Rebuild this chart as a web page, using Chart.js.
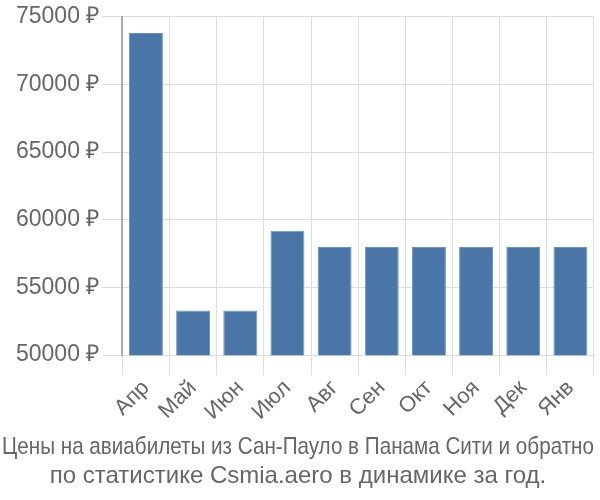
<!DOCTYPE html>
<html><head><meta charset="utf-8">
<script src="https://cdn.jsdelivr.net/npm/chart.js@4"></script>
<style>html,body{margin:0;padding:0;background:#fff}#w{width:600px;height:500px}</style>
</head><body><div id="w"><canvas id="c" width="600" height="500"></canvas></div>
<script>
const categories = ["Апр","Май","Июн","Июл","Авг","Сен","Окт","Ноя","Дек","Янв"];
const prices = [73800, 53300, 53300, 59200, 58000, 58000, 58000, 58000, 58000, 58000];
const titleLines = ["Цены на авиабилеты из Сан-Пауло в Панама Сити и обратно","по статистике Csmia.aero в динамике за год."];
new Chart(document.getElementById('c'), {
  type: 'bar',
  data: { labels: categories, datasets: [{ data: prices, backgroundColor: '#4a76a7', borderColor: '#6d93bd', borderWidth: 1 }] },
  options: {
    responsive: false, animation: false,
    layout: { padding: { top: 5, right: 6, left: 2, bottom: 0 } },
    plugins: {
      legend: { display: false }, tooltip: { enabled: false },
      title: { display: true, position: 'bottom', text: titleLines, color: '#666', font: { family: "'Liberation Sans', sans-serif", size: 24, weight: 'normal' }, padding: { top: 8, bottom: 9 }, lineHeight: 1.1 }
    },
    scales: {
      x: {
        grid: { color: '#dddddd', tickLength: 20, offset: true },
        border: { color: '#dddddd' },
        ticks: { color: '#666', font: { family: "'Liberation Sans', Arial, sans-serif", size: 22 }, maxRotation: 45, minRotation: 45, padding: 0 }
      },
      y: {
        min: 50000, max: 75000,
        grid: { color: '#dddddd', tickLength: 20 },
        border: { color: '#aaaaaa', width: 2 },
        afterFit: s => { s.width += 11; },
        ticks: { stepSize: 5000, color: '#666', font: { family: "'Liberation Sans', Arial, sans-serif", size: 23 }, padding: 3, callback: v => v + ' ₽' }
      }
    }
  }
});
</script></body></html>
